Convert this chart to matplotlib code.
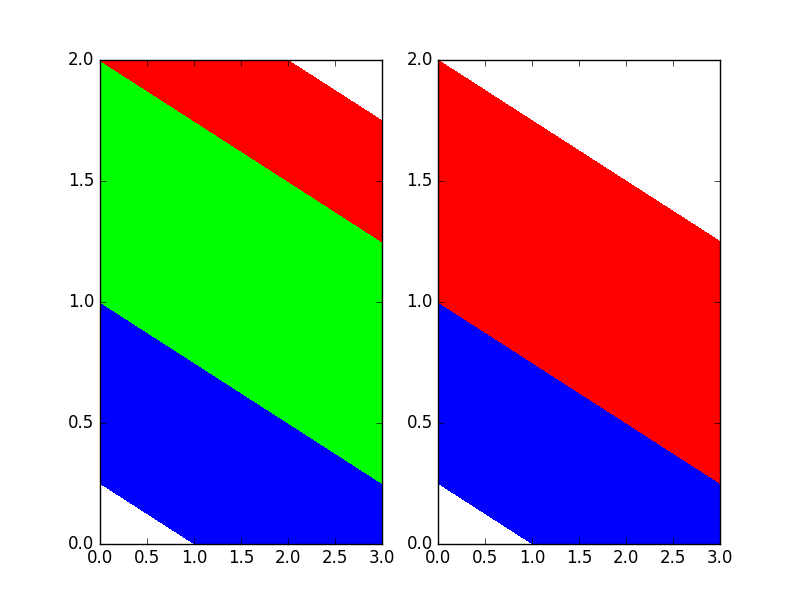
import matplotlib
matplotlib.use("Agg")
import matplotlib.pyplot as plt
import numpy as np

plt.style.use('classic')

# Grid corners and field values
x_vals = [0.0, 3.0]
y_vals = [0.0, 2.0]
z_vals = [[0.0, 0.75],
          [2.0, 2.75]]

left_levels = [0.25, 1.0, 2.0, 2.5]
left_colors = ['#0000ff', '#00ff00', '#ff0000']
right_levels = [0.25, 1.0, 2.0]
right_colors = ['#0000ff', '#ff0000']

fig = plt.figure(figsize=(8.0, 6.04), dpi=100)
X, Y = np.meshgrid(x_vals, y_vals)
Z = np.array(z_vals)

ax1 = fig.add_subplot(1, 2, 1)
ax1.contourf(X, Y, Z, levels=left_levels, colors=left_colors)
ax1.set_xlim(0, 3)
ax1.set_ylim(0, 2)

ax2 = fig.add_subplot(1, 2, 2)
ax2.contourf(X, Y, Z, levels=right_levels, colors=right_colors)
ax2.set_xlim(0, 3)
ax2.set_ylim(0, 2)

fig.savefig('out.png', dpi=100, facecolor='white')
